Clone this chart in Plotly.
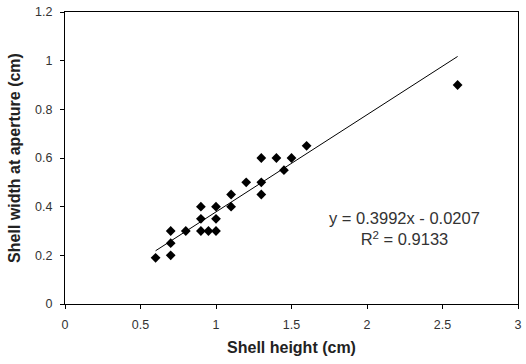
import numpy as np
import plotly.graph_objects as go

shell_height = [0.6, 0.7, 0.7, 0.7, 0.8, 0.9, 0.95, 1.0, 0.9, 0.9, 1.0, 1.0,
                1.1, 1.1, 1.2, 1.3, 1.3, 1.3, 1.4, 1.45, 1.5, 1.6, 2.6]
shell_width = [0.19, 0.2, 0.25, 0.3, 0.3, 0.3, 0.3, 0.3, 0.35, 0.4, 0.35, 0.4,
               0.4, 0.45, 0.5, 0.5, 0.45, 0.6, 0.6, 0.55, 0.6, 0.65, 0.9]
slope = 0.3992
intercept = -0.0207
r_squared = 0.9133

x_ticks = [0, 0.5, 1, 1.5, 2, 2.5, 3]
x_tick_labels = ["0", "0.5", "1", "1.5", "2", "2.5", "3"]
y_ticks = [0, 0.2, 0.4, 0.6, 0.8, 1, 1.2]
y_tick_labels = ["0", "0.2", "0.4", "0.6", "0.8", "1", "1.2"]

line_x = np.array([min(shell_height), max(shell_height)])
line_y = slope * line_x + intercept

FONT = "Liberation Sans, Arial"

fig = go.Figure()
fig.add_trace(go.Scatter(x=line_x, y=line_y, mode="lines",
                         line=dict(color="black", width=1), hoverinfo="skip"))
fig.add_trace(go.Scatter(x=shell_height, y=shell_width, mode="markers",
                         marker=dict(symbol="diamond", size=7.5, color="black")))

fig.add_annotation(x=2.245, y=0.31, xref="x", yref="y",
                   text=f"y = {slope}x - {abs(intercept)}<br>R<sup>2</sup> = {r_squared}",
                   showarrow=False, align="center",
                   font=dict(family=FONT, size=16.5, color="#333"))

axis_common = dict(showline=True, linecolor="black", linewidth=1, mirror=True,
                   ticks="outside", ticklen=4, tickcolor="black", showgrid=False,
                   zeroline=False, ticklabelstandoff=5,
                   tickfont=dict(family=FONT, size=12.5, color="#333"))

fig.update_xaxes(range=[0, 3], tickvals=x_ticks, ticktext=x_tick_labels,
                 title=dict(text="<b>Shell height (cm)</b>", standoff=10,
                            font=dict(family=FONT, size=16, color="#222")),
                 **axis_common)
fig.update_yaxes(range=[0, 1.2], tickvals=y_ticks, ticktext=y_tick_labels,
                 title=dict(text="<b>Shell width at aperture (cm)</b>", standoff=10,
                            font=dict(family=FONT, size=16, color="#222")),
                 **axis_common)

fig.update_layout(width=526, height=364, showlegend=False,
                  margin=dict(l=65, r=4, t=12, b=60),
                  plot_bgcolor="white", paper_bgcolor="white")

fig.write_html("out.html")
